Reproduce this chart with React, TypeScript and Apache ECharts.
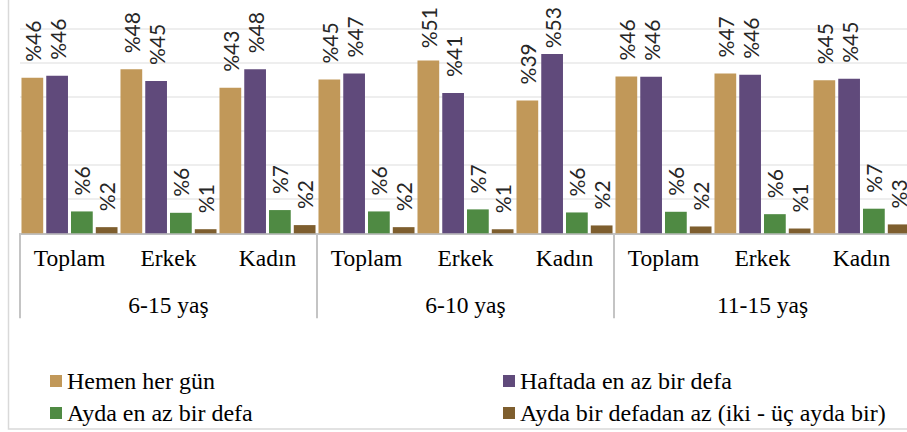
import React, { useEffect, useRef } from "react";
import * as echarts from "echarts";

const subCategories = ["Toplam", "Erkek", "Kadın", "Toplam", "Erkek", "Kadın", "Toplam", "Erkek", "Kadın"];
const groupCategories = ["6-15 yaş", "6-10 yaş", "11-15 yaş"];
const seriesNames = [
  "Hemen her gün",
  "Haftada en az bir defa",
  "Ayda en az bir defa",
  "Ayda bir defadan az (iki - üç ayda bir)",
];
const hemenHerGun = [45.5, 48.0, 42.6, 45.0, 50.6, 38.9, 45.9, 46.8, 44.8];
const haftadaEnAz = [46.1, 44.6, 48.0, 46.8, 41.1, 52.5, 45.8, 46.4, 45.2];
const aydaEnAz = [6.4, 6.0, 6.8, 6.4, 7.0, 6.1, 6.3, 5.6, 7.2];
const aydaBirdenAz = [1.8, 1.2, 2.4, 1.8, 1.2, 2.3, 2.0, 1.4, 2.6];
const colors = ["#c19859", "#604a7b", "#4f8a43", "#7e5e2e"];
const yTicks = { min: 0, max: 60, interval: 10 };

const SERIF = "Liberation Serif, Times New Roman, serif";
const SANS = "Lato";

// layout constants
const GRID_TOP = 28.3;
const GRID_BOTTOM_Y = 233.3;
const LABEL_TOP_LIMIT = 8;
const LABEL_FONT = 21;

export default function App() {
  const ref = useRef<HTMLDivElement>(null);
  useEffect(() => {
    if (!ref.current) return;
    const chart = echarts.init(ref.current, undefined, { renderer: "svg" });
    const dataSets = [hemenHerGun, haftadaEnAz, aydaEnAz, aydaBirdenAz];
    const pxPerUnit = (GRID_BOTTOM_Y - GRID_TOP) / (yTicks.max - yTicks.min);
    const series = dataSets.map((d, i) => ({
      name: seriesNames[i],
      type: "bar",
      xAxisIndex: 0,
      data: d.map((v) => {
        const text = "%" + Math.round(v);
        const labelLen = text.length * LABEL_FONT * 0.64;
        const barTop = GRID_BOTTOM_Y - v * pxPerUnit;
        const dist = Math.max(3, Math.min(16, barTop - LABEL_TOP_LIMIT - labelLen));
        return { value: v, label: { distance: dist } };
      }),
      barGap: "14%",
      barCategoryGap: "3%",
      itemStyle: { color: colors[i] },
      label: {
        show: true,
        position: "top",
        rotate: 90,
        align: "left",
        verticalAlign: "middle",
        fontFamily: SANS,
        fontSize: LABEL_FONT,
        color: "#262626",
        formatter: (p: any) => "%" + Math.round(p.value),
      },
    }));
    const legendPos = [
      { left: 50, top: 369 },
      { left: 503, top: 369 },
      { left: 50, top: 401 },
      { left: 503, top: 401 },
    ];
    const legends = seriesNames.map((n, i) => ({
      data: [n],
      orient: "horizontal",
      left: legendPos[i].left,
      top: legendPos[i].top,
      padding: 0,
      icon: "rect",
      itemWidth: 12,
      itemHeight: 12,
      textStyle: { fontFamily: SERIF, fontSize: 24, color: "#000000" },
    }));
    chart.setOption({
      animation: false,
      backgroundColor: "#ffffff",
      grid: { left: 20, right: 9, top: GRID_TOP, bottom: 432 - GRID_BOTTOM_Y },
      xAxis: [
        {
          type: "category",
          data: subCategories,
          position: "bottom",
          axisLine: { show: true, lineStyle: { color: "#bfbfbf", width: 2 } },
          axisTick: { show: false },
          axisLabel: {
            interval: 0,
            margin: 13,
            fontFamily: SERIF,
            fontSize: 23.5,
            color: "#000000",
          },
        },
        {
          type: "category",
          data: groupCategories,
          position: "bottom",
          axisLine: { show: false },
          axisTick: {
            show: true,
            interval: 0,
            length: 85,
            lineStyle: { color: "#c4c4c4", width: 2 },
          },
          axisLabel: {
            interval: 0,
            margin: 60,
            fontFamily: SERIF,
            fontSize: 23.5,
            color: "#000000",
          },
        },
      ],
      yAxis: {
        type: "value",
        min: yTicks.min,
        max: yTicks.max,
        interval: yTicks.interval,
        axisLine: { show: false },
        axisTick: { show: false },
        axisLabel: { show: false },
        splitLine: { show: true, lineStyle: { color: "#e8e8e8", width: 1.5 } },
      },
      legend: legends,
      graphic: [
        {
          type: "rect",
          silent: true,
          shape: { x: 8.5, y: -10, width: 1000, height: 439 },
          style: { fill: "none", stroke: "#d9d9d9", lineWidth: 1.5 },
        },
      ],
      series,
    });
    return () => chart.dispose();
  }, []);
  return (
    <div
      ref={ref}
      style={{ position: "fixed", left: 0, top: 0, width: 920, height: 432 }}
    />
  );
}
